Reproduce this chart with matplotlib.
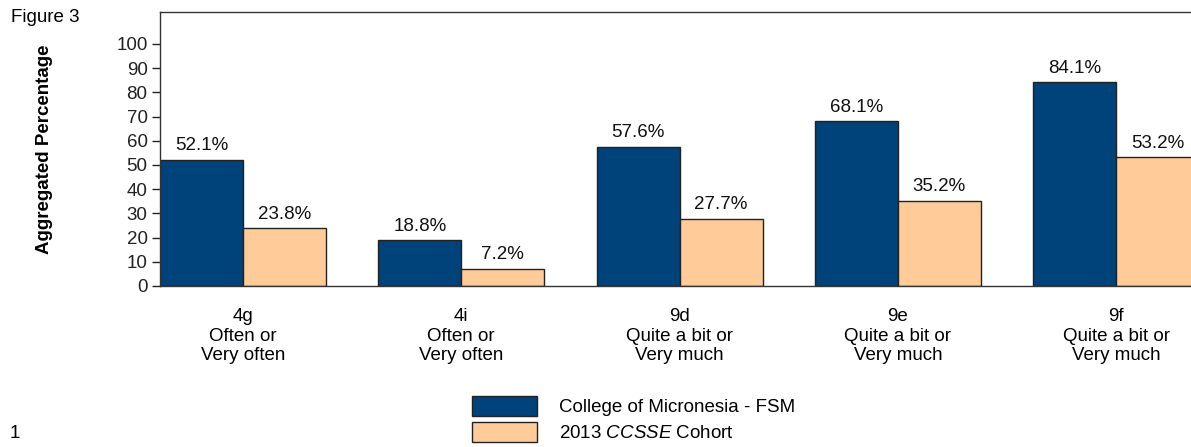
import numpy as np
import matplotlib as mpl
mpl.use('Agg')
import matplotlib.pyplot as plt
from matplotlib import rcParams

rcParams['font.family'] = ['Liberation Sans', 'DejaVu Sans']
rcParams['mathtext.fontset'] = 'custom'
rcParams['mathtext.it'] = 'Liberation Sans:italic'
rcParams['mathtext.rm'] = 'Liberation Sans'

# data
items = ['4g', '4i', '9d', '9e', '9f']
answers = ['Often or\nVery often', 'Often or\nVery often', 'Quite a bit or\nVery much',
           'Quite a bit or\nVery much', 'Quite a bit or\nVery much']
college = [52.1, 18.8, 57.6, 68.1, 84.1]
cohort = [23.8, 7.2, 27.7, 35.2, 53.2]
series_names = ['College of Micronesia - FSM', '2013 $\\it{CCSSE}$ Cohort']
yticks = list(range(0, 101, 10))

fs = 13.5
blue = '#00427A'
peach = '#FFCC99'
edge = '#222222'

fig = plt.figure(figsize=(11.91, 4.47), dpi=100)
W, H = 1191., 447.
# axes runs off the right edge of the picture like the original
axw = 1091.5
ax = fig.add_axes([160/W, 161/H, axw/W, 274.3/H])

x = np.arange(len(items))
w = 0.38
b1 = ax.bar(x - w/2, college, w, color=blue, edgecolor=edge, linewidth=1, label=series_names[0])
b2 = ax.bar(x + w/2, cohort, w, color=peach, edgecolor=edge, linewidth=1, label=series_names[1])

for bars, vals in [(b1, college), (b2, cohort)]:
    for r, v in zip(bars, vals):
        ax.annotate('%.1f%%' % v, (r.get_x() + r.get_width()/2, v), xytext=(0, 4),
                    textcoords='offset points', ha='center', va='bottom', fontsize=fs, color='#111111')

ax.set_xlim(-w, 4.62)
ax.set_ylim(0, 113.3)
ax.set_yticks(yticks)
ax.set_yticklabels([str(t) for t in yticks], fontsize=fs)
ax.set_xticks(x)
ax.set_xticklabels([i + '\n' + a for i, a in zip(items, answers)], fontsize=fs, linespacing=1.2)
ax.tick_params(axis='x', length=0, pad=16)
ax.tick_params(axis='y', length=6, width=1, direction='out', pad=3, colors='#222222')
for s in ['left', 'top', 'bottom']:
    ax.spines[s].set_color('#333333')
    ax.spines[s].set_linewidth(1)
ax.spines['right'].set_visible(False)

ax.set_ylabel('Aggregated Percentage', fontsize=fs, fontweight='bold')
ax.yaxis.set_label_coords((53 - 160)/axw, 0.5)

fig.text(11/W, 1 - 18/H, 'Figure 3', fontsize=fs, ha='left', va='center')
fig.text(10/W, 1 - 433/H, '1', fontsize=fs, ha='left', va='center')

leg = fig.legend(handles=[b1, b2], loc='upper left', bbox_to_anchor=(472/W, 1 - 396/H),
                 frameon=False, fontsize=fs, handlelength=3.45, handleheight=1.25,
                 labelspacing=0.32, handletextpad=1.2, borderpad=0, borderaxespad=0)

plt.savefig('out.png', dpi=100)
